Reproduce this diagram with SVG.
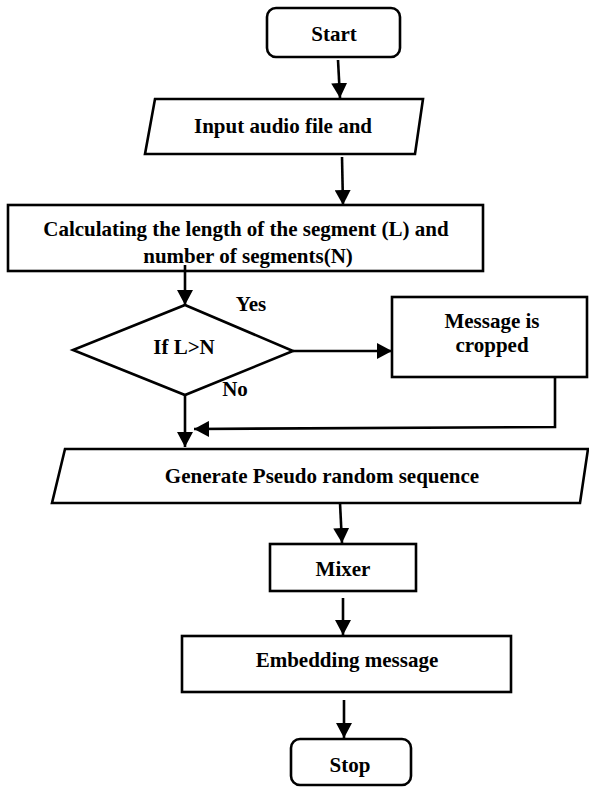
<svg xmlns="http://www.w3.org/2000/svg" width="589" height="787" viewBox="0 0 589 787">
  <style>
    .shape { fill: #ffffff; stroke: #000000; stroke-width: 2.6; }
    .label { font-family: "Liberation Serif", "Times New Roman", serif; font-weight: bold; font-size: 21px; fill: #000000; text-anchor: middle; }
    .edge { fill: none; stroke: #000000; stroke-width: 2.6; }
    .arrow { marker-end: url(#head); }
  </style>
  <defs>
    <marker id="head" markerUnits="userSpaceOnUse" markerWidth="16" markerHeight="16" viewBox="0 0 16 16" refX="15" refY="8" orient="auto">
      <path d="M0,0 L15,8 L0,16 Z" fill="#000000"/>
    </marker>
  </defs>
  <rect x="0" y="0" width="589" height="787" fill="#ffffff"/>

  <g id="start">
    <rect class="shape" x="267" y="8" width="133" height="49" rx="9"/>
    <text class="label" x="334" y="41">Start</text>
  </g>

  <g id="input">
    <polygon class="shape" points="155,99 423,99 415,154 145,154"/>
    <text class="label" x="283" y="133">Input audio file and</text>
  </g>

  <g id="calculate">
    <rect class="shape" x="8" y="205" width="475" height="66"/>
    <text class="label" x="246" y="236">Calculating the length of the segment (L) and</text>
    <text class="label" x="248" y="263">number of segments(N)</text>
  </g>

  <g id="decision">
    <polygon class="shape" points="185,305 293,351 185,395 73,350"/>
    <text class="label" x="184" y="354">If L&gt;N</text>
  </g>

  <g id="cropped">
    <rect class="shape" x="392" y="297" width="195" height="80"/>
    <text class="label" x="492" y="328">Message is</text>
    <text class="label" x="492" y="352">cropped</text>
  </g>

  <g id="generate">
    <polygon class="shape" points="65,449 588,449 580,503 52,503"/>
    <text class="label" x="322" y="483">Generate Pseudo random sequence</text>
  </g>

  <g id="mixer">
    <rect class="shape" x="270" y="544" width="146" height="47"/>
    <text class="label" x="343" y="576">Mixer</text>
  </g>

  <g id="embedding">
    <rect class="shape" x="182" y="636" width="329" height="56"/>
    <text class="label" x="347" y="667">Embedding message</text>
  </g>

  <g id="stop">
    <rect class="shape" x="291" y="739" width="120" height="46" rx="9"/>
    <text class="label" x="350" y="772">Stop</text>
  </g>

  <g id="connectors">
    <line class="edge arrow" x1="338" y1="60" x2="340" y2="98"/>
    <line class="edge arrow" x1="342" y1="157" x2="343" y2="205"/>
    <line class="edge arrow" x1="185" y1="265" x2="185" y2="305"/>
    <line class="edge arrow" x1="293" y1="351" x2="392" y2="351"/>
    <line class="edge arrow" x1="185" y1="395" x2="185" y2="447"/>
    <polyline class="edge arrow" points="555,377 555,427 194,429"/>
    <line class="edge arrow" x1="340" y1="503" x2="342" y2="543"/>
    <line class="edge arrow" x1="343" y1="598" x2="343" y2="635"/>
    <line class="edge arrow" x1="344" y1="700" x2="344" y2="738"/>
    <text class="label" x="251" y="311">Yes</text>
    <text class="label" x="235" y="396">No</text>
  </g>
</svg>
